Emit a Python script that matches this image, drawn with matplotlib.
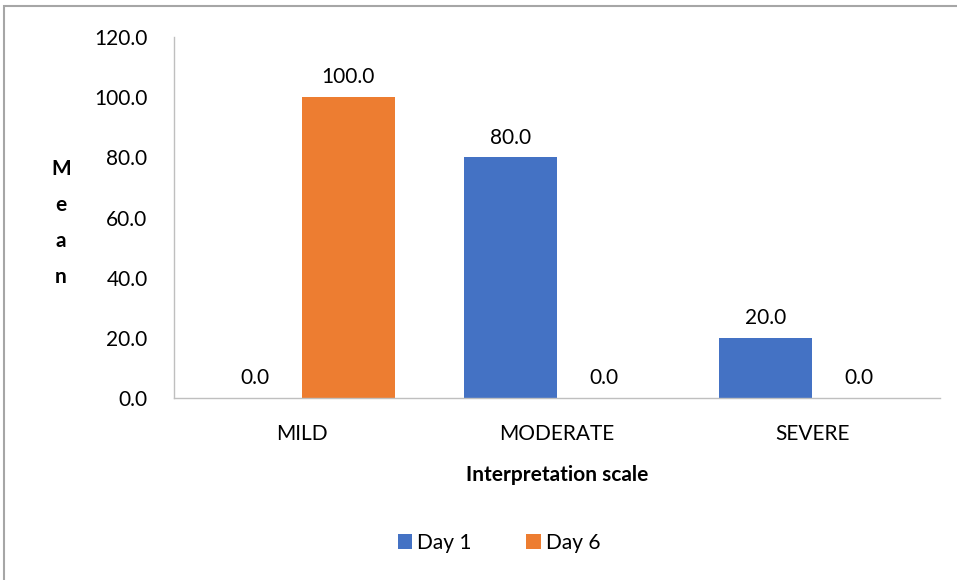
import matplotlib.pyplot as plt
from matplotlib.patches import Rectangle

categories = ["MILD", "MODERATE", "SEVERE"]
day1 = [0.0, 80.0, 20.0]
day6 = [100.0, 0.0, 0.0]
series_names = ["Day 1", "Day 6"]
yticks = [0, 20, 40, 60, 80, 100, 120]

BLUE = "#4472C4"
ORANGE = "#ED7D31"
FONT = ["Lato", "DejaVu Sans"]
plt.rcParams["font.family"] = FONT
FS = 15

W, H = 957, 580
fig = plt.figure(figsize=(W / 100, H / 100), dpi=100)

# outer chart frame (extends past the right and bottom edges)
fig.patches.append(Rectangle((4 / W, -0.05), 1.2, 1 - 6 / H + 0.05,
                             transform=fig.transFigure, fill=False,
                             edgecolor="#a6a6a6", linewidth=1.5))

left, right, top, bottom = 174, 940, 37, 398
ax = fig.add_axes([left / W, 1 - bottom / H, (right - left) / W, (bottom - top) / H])

x = range(len(categories))
bw = 0.365
pos1 = [i - bw / 2 for i in x]
pos6 = [i + bw / 2 for i in x]
ax.bar(pos1, day1, width=bw, color=BLUE, label=series_names[0])
ax.bar(pos6, day6, width=bw, color=ORANGE, label=series_names[1])

for xs, vals in ((pos1, day1), (pos6, day6)):
    for xi, v in zip(xs, vals):
        ax.annotate(f"{v:.1f}", (xi, v), xytext=(0, 7), textcoords="offset points",
                    ha="center", va="bottom", fontsize=FS, color="#000000")

ax.set_xlim(-0.5, 2.5)
ax.set_ylim(0, 120)
ax.set_yticks(yticks)
ax.set_yticklabels([f"{t:.1f}" for t in yticks], fontsize=FS)
ax.set_xticks(list(x))
ax.set_xticklabels(categories, fontsize=FS)
ax.tick_params(axis="y", length=0, pad=19)
ax.tick_params(axis="x", length=0, pad=19)

for s in ("top", "right"):
    ax.spines[s].set_visible(False)
ax.spines["left"].set_color("#bfbfbf")
ax.spines["bottom"].set_color("#bfbfbf")
ax.spines["left"].set_linewidth(1)
ax.spines["bottom"].set_linewidth(1)

ax.set_xlabel("Interpretation scale", fontsize=FS, fontweight="bold", labelpad=15)

# stacked vertical axis title
fig.text(61 / W, 1 - 223 / H, "M\ne\na\nn", ha="center", va="center",
         fontsize=FS, fontweight="bold", linespacing=2.0)

leg = fig.legend(loc="center", bbox_to_anchor=(499 / W, 1 - 543 / H), ncol=2,
                 frameon=False, fontsize=FS, handlelength=0.7, handleheight=0.7,
                 handletextpad=0.25, columnspacing=2.6)

fig.savefig("out.png", dpi=100, facecolor="white")
